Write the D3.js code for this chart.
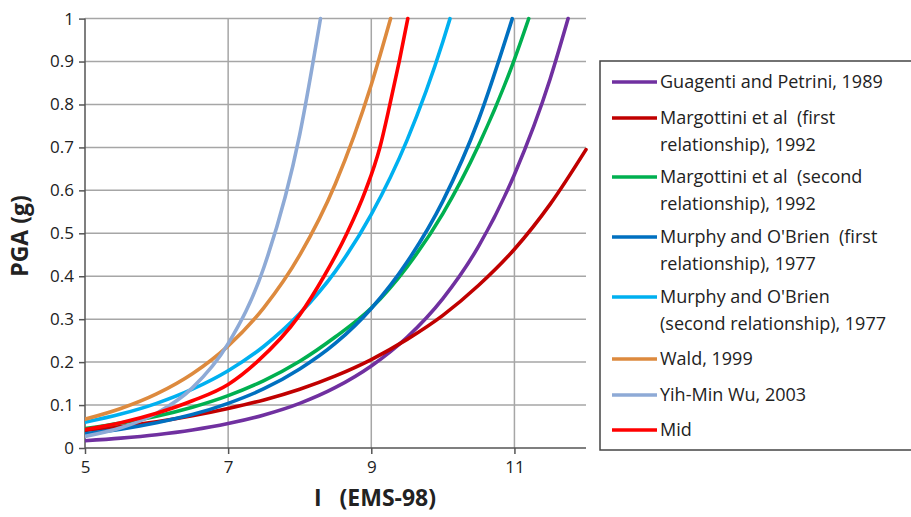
<!DOCTYPE html>
<html>
<head>
<meta charset="utf-8">
<script src="https://cdn.jsdelivr.net/npm/d3@7"></script>
<style>
  html, body { margin: 0; padding: 0; background: #fff; }
  svg { display: block; }
  text { font-family: "Open Sans", Lato, sans-serif; fill: #222; }
</style>
</head>
<body>
<svg id="chart" width="911" height="517"></svg>
<script>
// Intensity (EMS-98) vs peak ground acceleration (g) relationships
const seriesNames = [
  ["Guagenti and Petrini, 1989"],
  ["Margottini et al  (first", "relationship), 1992"],
  ["Margottini et al  (second", "relationship), 1992"],
  ["Murphy and O'Brien  (first", "relationship), 1977"],
  ["Murphy and O'Brien", "(second relationship), 1977"],
  ["Wald, 1999"],
  ["Yih-Min Wu, 2003"],
  ["Mid"]
];
const seriesColors = ["#7030a0", "#c00000", "#00b050", "#0070c0", "#00b0f0", "#dd8a3e", "#8eaad6", "#ff0000"];

const guagentiI   = [5, 5.5, 6, 6.5, 7, 7.5, 8, 8.5, 9, 9.5, 10, 10.5, 11, 11.5, 11.75];
const guagentiPGA = [0.017, 0.023, 0.031, 0.042, 0.057, 0.077, 0.104, 0.141, 0.191, 0.258, 0.348, 0.470, 0.637, 0.860, 1.0];

const margottini1I   = [5, 5.5, 6, 6.5, 7, 7.5, 8, 8.5, 9, 9.5, 10, 10.5, 11, 11.5, 12];
const margottini1PGA = [0.041, 0.050, 0.061, 0.075, 0.092, 0.112, 0.137, 0.168, 0.206, 0.253, 0.309, 0.379, 0.463, 0.568, 0.695];

const margottini2I   = [5, 5.5, 6, 6.5, 7, 7.5, 8, 8.5, 9, 9.5, 10, 10.5, 11, 11.2];
const margottini2PGA = [0.045, 0.058, 0.074, 0.095, 0.122, 0.157, 0.202, 0.259, 0.326, 0.422, 0.546, 0.705, 0.905, 1.0];

const murphy1I   = [5, 5.5, 6, 6.5, 7, 7.5, 8, 8.5, 9, 9.5, 10, 10.5, 10.97];
const murphy1PGA = [0.033, 0.044, 0.059, 0.078, 0.104, 0.138, 0.184, 0.244, 0.325, 0.433, 0.575, 0.765, 1.0];

const murphy2I   = [5, 5.5, 6, 6.5, 7, 7.5, 8, 8.5, 9, 9.5, 10, 10.1];
const murphy2PGA = [0.060, 0.079, 0.104, 0.137, 0.180, 0.237, 0.313, 0.412, 0.544, 0.717, 0.946, 1.0];

const waldI   = [5, 5.5, 6, 6.5, 7, 7.5, 8, 8.5, 9, 9.27];
const waldPGA = [0.067, 0.092, 0.126, 0.173, 0.238, 0.327, 0.449, 0.616, 0.846, 1.0];

const wuI   = [5, 5.5, 6, 6.5, 7, 7.5, 8, 8.29];
const wuPGA = [0.027, 0.047, 0.081, 0.140, 0.243, 0.421, 0.730, 1.0];

const midI   = [5, 5.5, 6, 6.5, 7, 7.4, 8, 8.34, 8.66, 8.92, 9.12, 9.26, 9.39, 9.51];
const midPGA = [0.043, 0.059, 0.081, 0.110, 0.148, 0.200, 0.310, 0.400, 0.500, 0.600, 0.700, 0.800, 0.900, 1.0];

const xTicks = [5, 7, 9, 11];
const yTicks = [0, 0.1, 0.2, 0.3, 0.4, 0.5, 0.6, 0.7, 0.8, 0.9, 1];

const seriesI   = [guagentiI, margottini1I, margottini2I, murphy1I, murphy2I, waldI, wuI, midI];
const seriesPGA = [guagentiPGA, margottini1PGA, margottini2PGA, murphy1PGA, murphy2PGA, waldPGA, wuPGA, midPGA];

const svg = d3.select("#chart");
const plot = { left: 85, right: 586, top: 18.6, bottom: 448 };

const x = d3.scaleLinear().domain([5, 12]).range([plot.left, plot.right]);
const y = d3.scaleLinear().domain([0, 1]).range([plot.bottom, plot.top]);

// gridlines
const grid = svg.append("g");
grid.selectAll("line.h").data(yTicks.filter(d => d > 0)).join("line")
  .attr("x1", plot.left).attr("x2", plot.right)
  .attr("y1", d => y(d)).attr("y2", d => y(d))
  .attr("stroke", "#a6a6a6").attr("stroke-width", 1.5);
grid.selectAll("line.v").data(xTicks.filter(d => d > 5)).join("line")
  .attr("x1", d => x(d)).attr("x2", d => x(d))
  .attr("y1", plot.top).attr("y2", plot.bottom)
  .attr("stroke", "#a6a6a6").attr("stroke-width", 1.5);

// axes
const xAxis = d3.axisBottom(x).tickValues(xTicks).tickSize(6).tickSizeOuter(0).tickFormat(d3.format("d"));
const yAxis = d3.axisLeft(y).tickValues(yTicks).tickSize(6).tickSizeOuter(0).tickFormat(d => d === 0 ? "0" : d === 1 ? "1" : d3.format(".1f")(d));

const gx = svg.append("g").attr("transform", `translate(0,${plot.bottom})`).call(xAxis);
gx.select(".domain").attr("stroke", "#555").attr("stroke-width", 1.5).attr("d", `M${plot.left},0H${plot.right}`);
gx.selectAll(".tick line").attr("stroke", "#555").attr("stroke-width", 1.5);
gx.selectAll(".tick text").attr("dy", "1.0em").attr("y", 8)
  .style("font-size", "17px").style("font-family", "'Open Sans', sans-serif").attr("fill", "#222");

const gy = svg.append("g").attr("transform", `translate(${plot.left},0)`).call(yAxis);
gy.select(".domain").attr("stroke", "#555").attr("stroke-width", 1.5).attr("d", `M0,${plot.bottom}V${plot.top}`);
gy.selectAll(".tick line").attr("stroke", "#555").attr("stroke-width", 1.5);
gy.selectAll(".tick text").attr("x", -11)
  .style("font-size", "17px").style("font-family", "'Open Sans', sans-serif").attr("fill", "#222");

// curves
const line = d3.line()
  .x(d => x(d[0]))
  .y(d => y(d[1]))
  .curve(d3.curveMonotoneX);

svg.append("defs").append("clipPath").attr("id", "plotclip")
  .append("rect").attr("x", plot.left).attr("y", plot.top - 3)
  .attr("width", plot.right - plot.left + 4).attr("height", plot.bottom - plot.top + 3);

const curves = svg.append("g").attr("clip-path", "url(#plotclip)");
seriesI.forEach((xs, i) => {
  const pts = xs.map((v, j) => [v, seriesPGA[i][j]]);
  curves.append("path")
    .attr("d", line(pts))
    .attr("fill", "none")
    .attr("stroke", seriesColors[i])
    .attr("stroke-width", 3.6)
    .attr("stroke-linecap", "round");
});

// axis titles
svg.append("text")
  .attr("transform", `translate(28,236) rotate(-90)`)
  .attr("text-anchor", "middle")
  .style("font-size", "23px").style("font-weight", "bold")
  .text("PGA (g)");

svg.append("text")
  .attr("x", 314).attr("y", 506)
  .attr("xml:space", "preserve")
  .style("white-space", "pre")
  .style("font-size", "23px").style("font-weight", "bold")
  .text("I   (EMS-98)");

// legend
const legend = svg.append("g");
legend.append("rect")
  .attr("x", 600).attr("y", 61).attr("width", 330).attr("height", 389)
  .attr("fill", "#fff").attr("stroke", "#444").attr("stroke-width", 1.5);

const rowY = [82, 118, 177, 237, 297, 359, 395, 430];
const lineGap = 27;
seriesNames.forEach((lines, i) => {
  const ly = rowY[i];
  legend.append("line")
    .attr("x1", 612).attr("x2", 657)
    .attr("y1", ly).attr("y2", ly)
    .attr("stroke", seriesColors[i]).attr("stroke-width", 3.6);
  lines.forEach((t, k) => {
    legend.append("text")
      .attr("x", 660).attr("y", ly + k * lineGap)
      .attr("dy", "0.35em")
      .attr("xml:space", "preserve")
      .style("white-space", "pre")
      .style("font-size", "18px")
      .text(t);
  });
});
</script>
</body>
</html>
